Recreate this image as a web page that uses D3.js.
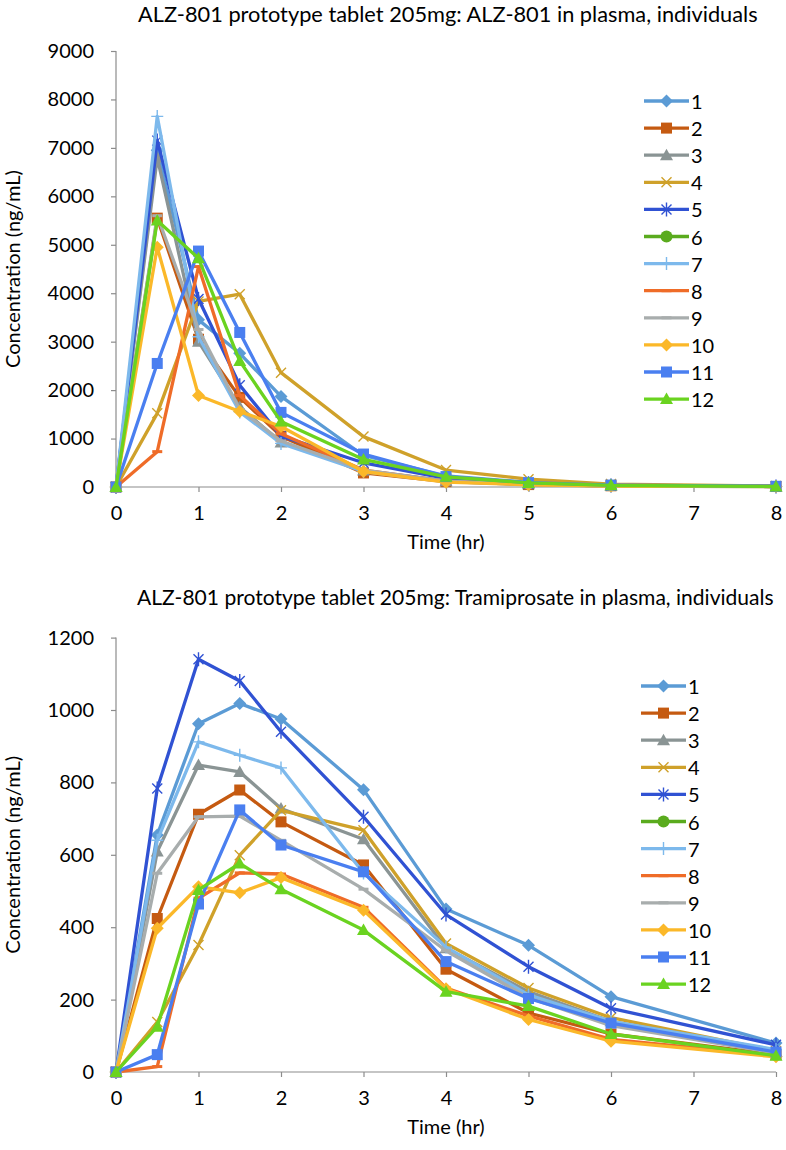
<!DOCTYPE html>
<html>
<head>
<meta charset="utf-8">
<script src="https://cdn.jsdelivr.net/npm/d3@7"></script>
<style>
  html, body { margin: 0; padding: 0; background: #fff; }
  svg { display: block; }
  text { font-family: Lato, "Open Sans", sans-serif; fill: #000; }
</style>
</head>
<body>
<svg id="chart" width="786" height="1150"></svg>
<script>
// ---------- DATA ----------
const times = [0, 0.5, 1, 1.5, 2, 3, 4, 5, 6, 8];
const xTicks = [0, 1, 2, 3, 4, 5, 6, 7, 8];
const seriesNames = ["1","2","3","4","5","6","7","8","9","10","11","12"];

const topTitle = "ALZ-801 prototype tablet 205mg: ALZ-801 in plasma, individuals";
const bottomTitle = "ALZ-801 prototype tablet 205mg: Tramiprosate in plasma, individuals";
const xAxisTitle = "Time (hr)";
const yAxisTitle = "Concentration (ng/mL)";

const topYTicks = [0, 1000, 2000, 3000, 4000, 5000, 6000, 7000, 8000, 9000];
const bottomYTicks = [0, 200, 400, 600, 800, 1000, 1200];

// ALZ-801 in plasma (ng/mL)
const alz1  = [0, 6950, 3450, 2760, 1870, 650, 230, 95, 40, 12];
const alz2  = [0, 5550, 3050, 1850, 1050, 290, 110, 50, 25, 10];
const alz3  = [0, 6800, 3000, 1650, 920, 340, 120, 55, 25, 10];
const alz4  = [0, 1520, 3830, 3980, 2360, 1040, 350, 160, 60, 20];
const alz5  = [0, 7150, 3880, 2100, 1050, 500, 180, 70, 30, 10];
const alz6  = [null, null, null, null, null, null, null, null, null, null];
const alz7  = [0, 7650, 3100, 1550, 900, 320, 110, 50, 20, 8];
const alz8  = [0, 730, 4550, 1890, 1100, 350, 120, 55, 25, 10];
const alz9  = [0, 5600, 3250, 1600, 950, 350, 120, 55, 25, 10];
const alz10 = [0, 4950, 1890, 1560, 1250, 320, 100, 45, 20, 8];
const alz11 = [0, 2550, 4870, 3190, 1540, 680, 215, 90, 40, 15];
const alz12 = [0, 5500, 4720, 2600, 1350, 570, 210, 85, 35, 12];

// Tramiprosate in plasma (ng/mL)
const tram1  = [0, 655, 962, 1018, 975, 780, 450, 350, 208, 80];
const tram2  = [0, 424, 712, 779, 691, 572, 284, 163, 105, 48];
const tram3  = [0, 609, 848, 829, 728, 643, 342, 222, 140, 55];
const tram4  = [0, 138, 351, 599, 723, 668, 355, 232, 150, 58];
const tram5  = [0, 783, 1140, 1080, 940, 705, 435, 291, 176, 75];
const tram6  = [null, null, null, null, null, null, null, null, null, null];
const tram7  = [0, 640, 912, 875, 840, 550, 345, 213, 140, 62];
const tram8  = [0, 15, 480, 550, 547, 455, 232, 155, 90, 45];
const tram9  = [0, 549, 705, 707, 640, 505, 335, 205, 128, 52];
const tram10 = [0, 397, 512, 495, 537, 447, 230, 145, 85, 42];
const tram11 = [0, 48, 464, 724, 627, 553, 305, 203, 135, 55];
const tram12 = [0, 125, 503, 576, 505, 392, 222, 182, 105, 45];

const alzSeries = [alz1, alz2, alz3, alz4, alz5, alz6, alz7, alz8, alz9, alz10, alz11, alz12];
const tramSeries = [tram1, tram2, tram3, tram4, tram5, tram6, tram7, tram8, tram9, tram10, tram11, tram12];

// ---------- STYLE ----------
const colors = ["#5b9bd5", "#c55a11", "#8a9494", "#cfa12a", "#3052d3", "#5aab1e",
                "#7db9ec", "#ef6c28", "#a8adad", "#fbb829", "#4a7ff0", "#6ad320"];
const markers = ["diamond", "square", "triangle", "x", "star", "circle",
                 "plus", "dash", "dash", "diamond", "square", "triangle"];

function drawMarker(g, type, color) {
  switch (type) {
    case "diamond":
      g.append("path").attr("d", "M0,-6.5L6.5,0L0,6.5L-6.5,0Z").attr("fill", color); break;
    case "square":
      g.append("rect").attr("x", -5.5).attr("y", -5.5).attr("width", 11).attr("height", 11).attr("fill", color); break;
    case "triangle":
      g.append("path").attr("d", "M0,-6.5L6.5,5L-6.5,5Z").attr("fill", color); break;
    case "circle":
      g.append("circle").attr("r", 6).attr("fill", color); break;
    case "x":
      g.append("path").attr("d", "M-5,-5L5,5M-5,5L5,-5").attr("stroke", color).attr("stroke-width", 1.4).attr("fill", "none"); break;
    case "star":
      g.append("path").attr("d", "M-5,-5L5,5M-5,5L5,-5M0,-7L0,7").attr("stroke", color).attr("stroke-width", 1.4).attr("fill", "none"); break;
    case "plus":
      g.append("path").attr("d", "M0,-6.5L0,6.5M-6,0L6,0").attr("stroke", color).attr("stroke-width", 1.4).attr("fill", "none"); break;
    case "dash":
      g.append("path").attr("d", "M-5,0L5,0").attr("stroke", color).attr("stroke-width", 3).attr("fill", "none"); break;
  }
}

const svg = d3.select("#chart");
const axisColor = "#8c8c8c";
const FS = 20;

function fitText(sel, width) {
  const w = sel.node().getComputedTextLength();
  const fs = parseFloat(sel.attr("font-size"));
  sel.attr("font-size", fs * width / w);
}

function drawChart(opt) {
  const x = d3.scaleLinear().domain([0, 8]).range([opt.left, opt.right]);
  const y = d3.scaleLinear().domain([0, opt.yMax]).range([opt.bottom, opt.top]);
  const g = svg.append("g");

  // title
  const t = g.append("text").attr("x", opt.titleX).attr("y", opt.titleY)
    .attr("font-size", 19).attr("dominant-baseline", "middle").text(opt.title);
  fitText(t, opt.titleW);

  // axes
  const xAxis = d3.axisBottom(x).tickValues(xTicks).tickSize(5).tickPadding(14).tickFormat(d3.format("d"));
  const gx = g.append("g").attr("transform", `translate(0,${opt.bottom})`).call(xAxis);
  const yAxis = d3.axisLeft(y).tickValues(opt.yTicks).tickSize(5).tickPadding(17).tickFormat(d3.format("d"));
  const gy = g.append("g").attr("transform", `translate(${opt.left},0)`).call(yAxis);
  [gx, gy].forEach(a => {
    a.select(".domain").attr("stroke", axisColor).attr("stroke-width", 1.2);
    a.selectAll(".tick line").attr("stroke", axisColor).attr("stroke-width", 1.2);
    a.selectAll(".tick text").attr("font-size", FS).attr("font-family", "Lato, sans-serif").attr("fill", "#000");
  });
  gy.select(".domain").attr("d", `M0,${opt.bottom}V${opt.top}`);
  gx.select(".domain").attr("d", `M${opt.left},0H${opt.right}`);

  g.append("text").attr("x", (opt.left + opt.right) / 2).attr("y", opt.bottom + 62)
    .attr("text-anchor", "middle").attr("font-size", FS).text(xAxisTitle);
  g.append("text").attr("transform", `translate(15,${(opt.top + opt.bottom) / 2}) rotate(-90)`)
    .attr("text-anchor", "middle").attr("dominant-baseline", "middle").attr("font-size", FS).text(yAxisTitle);

  // lines
  const line = d3.line().defined(d => d.v != null).x(d => x(d.t)).y(d => y(d.v));
  opt.series.forEach((vals, i) => {
    const pts = times.map((tt, k) => ({ t: tt, v: vals[k] }));
    const sg = g.append("g");
    sg.append("path").datum(pts).attr("d", line).attr("fill", "none")
      .attr("stroke", colors[i]).attr("stroke-width", 3.3).attr("stroke-linejoin", "round");
    pts.filter(p => p.v != null).forEach(p => {
      const mg = sg.append("g").attr("transform", `translate(${x(p.t)},${y(p.v)})`);
      drawMarker(mg, markers[i], colors[i]);
    });
  });

  // legend
  seriesNames.forEach((name, i) => {
    const ly = opt.legendY + i * 27.1;
    const lg = g.append("g");
    lg.append("line").attr("x1", opt.legendX).attr("x2", opt.legendX + 45)
      .attr("y1", ly).attr("y2", ly).attr("stroke", colors[i]).attr("stroke-width", 3.3);
    const mg = lg.append("g").attr("transform", `translate(${opt.legendX + 22.5},${ly})`);
    drawMarker(mg, markers[i], colors[i]);
    lg.append("text").attr("x", opt.legendX + 47).attr("y", ly)
      .attr("dominant-baseline", "central").attr("font-size", FS).text(name);
  });
}

drawChart({
  title: topTitle, titleX: 138, titleY: 16, titleW: 620,
  left: 116, right: 776, top: 51, bottom: 487, yMax: 9000, yTicks: topYTicks,
  series: alzSeries, legendX: 644, legendY: 101
});
drawChart({
  title: bottomTitle, titleX: 137, titleY: 600, titleW: 637,
  left: 116, right: 776, top: 637.6, bottom: 1072, yMax: 1200, yTicks: bottomYTicks,
  series: tramSeries, legendX: 641, legendY: 686
});
</script>
</body>
</html>
